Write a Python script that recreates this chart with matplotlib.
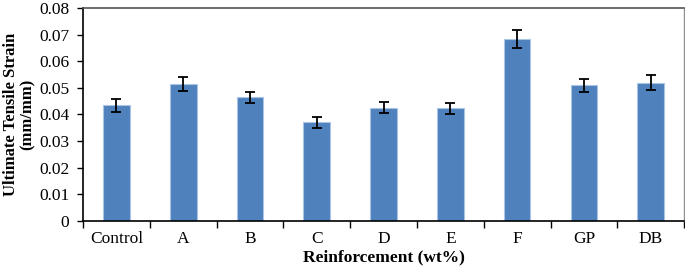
import matplotlib
matplotlib.use("Agg")
import matplotlib.pyplot as plt
import numpy as np

categories = ["Control", "A", "B", "C", "D", "E", "F", "GP", "DB"]
values = [0.0434, 0.0513, 0.0464, 0.0370, 0.0426, 0.0423, 0.0684, 0.0509, 0.0520]
errors = [0.0023, 0.0026, 0.0022, 0.0019, 0.0021, 0.0021, 0.0035, 0.0026, 0.0027]
yticks = [0, 0.01, 0.02, 0.03, 0.04, 0.05, 0.06, 0.07, 0.08]
ytick_labels = ["0", "0.01", "0.02", "0.03", "0.04", "0.05", "0.06", "0.07", "0.08"]

plt.rcParams['font.family'] = ['Liberation Serif', 'DejaVu Serif']

fig = plt.figure(figsize=(6.85, 2.75), dpi=100)
ax = fig.add_axes([0.1212, 0.1964, 0.8775, 0.7746])

x = np.arange(len(categories))
ax.bar(x, values, width=0.4, color="#4F81BD", edgecolor="#A9C4E4", linewidth=0.8, zorder=2)
ax.errorbar(x, values, yerr=errors, fmt="none", ecolor="black", elinewidth=1.3,
            capsize=3.5, capthick=1.3, zorder=3)

ax.set_xlim(-0.5, len(categories) - 0.5)
ax.set_ylim(0, 0.08)
ax.set_yticks(yticks)
ax.set_yticklabels(ytick_labels, fontsize=12.5)

ax.set_xticks(np.arange(len(categories) + 1) - 0.5)
ax.set_xticklabels([])
ax.set_xticks(x, minor=True)
ax.set_xticklabels(categories, minor=True, fontsize=12.5)
ax.tick_params(axis='x', which='minor', length=0, pad=7)
ax.tick_params(axis='x', which='major', length=5, width=1.0, direction='out')
ax.tick_params(axis='y', length=4, width=1.0, direction='out', pad=6)

for s in ['left', 'bottom']:
    ax.spines[s].set_color('black')
    ax.spines[s].set_linewidth(1.2)
ax.spines['top'].set_color('#555555')
ax.spines['top'].set_linewidth(1.2)
ax.spines['right'].set_color('#909090')
ax.spines['right'].set_linewidth(1.0)

ax.set_xlabel("Reinforcement (wt%)", fontsize=12.5, fontweight='bold', labelpad=2)
ax.set_ylabel("Ultimate Tensile Strain\n(mm/mm)", fontsize=12, fontweight='bold',
              linespacing=1.1)
ax.yaxis.set_label_coords(-0.078, 0.5)

fig.savefig("out.png", dpi=100)
